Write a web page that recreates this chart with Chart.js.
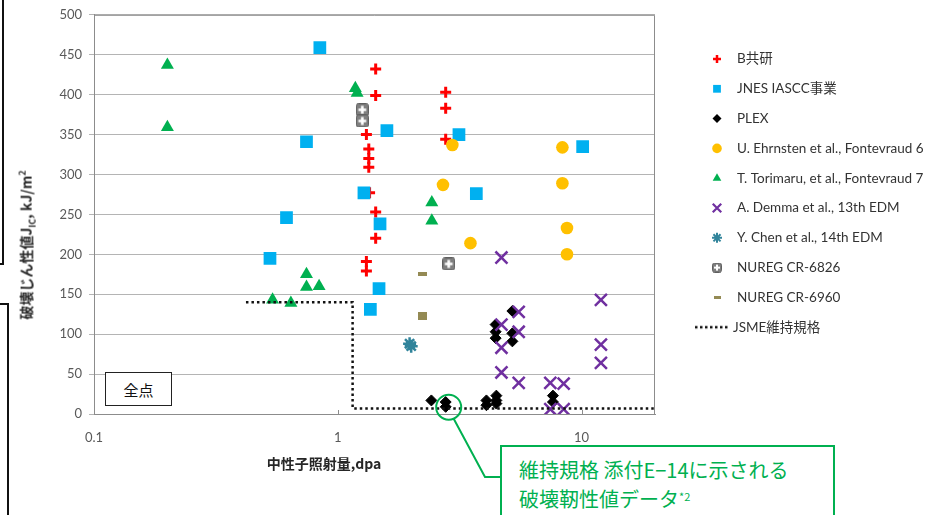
<!DOCTYPE html>
<html>
<head>
<meta charset="utf-8">
<script src="https://cdn.jsdelivr.net/npm/chart.js@4.4.1/dist/chart.umd.min.js"></script>
<style>
  body { margin: 0; background: #fff; }
  #wrap { position: relative; width: 939px; height: 515px; overflow: hidden; background: #fff; }
  #plot { position: absolute; left: 0; top: 0; }
  .ytitle { position: absolute; left: 27px; top: 245px; transform: translate(-50%, -50%) rotate(-90deg);
            font: bold 14px 'Noto Sans CJK JP', 'Lato', sans-serif; color: #262626; white-space: nowrap; }
  .ytitle sub, .ytitle sup { font-size: 9px; }
  .xtitle { position: absolute; left: 324px; top: 463px; transform: translate(-50%, -50%);
            font: bold 14px 'Noto Sans CJK JP', 'Lato', sans-serif; color: #262626; white-space: nowrap; }
  .allpts { position: absolute; left: 105px; top: 372px; width: 65px; height: 32px; border: 1.5px solid #222;
            font: 15px 'Noto Sans CJK JP', sans-serif; color: #111; display: flex; align-items: center; justify-content: center; background: #fff; }
  .callout { position: absolute; left: 500px; top: 445px; width: 335px; height: 100px; border: 2px solid #00B050;
             font: 20px 'Noto Sans CJK JP', sans-serif; color: #00B050; line-height: 27px; padding: 9px 0 0 17px; box-sizing: border-box; background: #fff; }
  .callout sup { font-size: 11px; vertical-align: 6px; }
  .edge1 { position: absolute; left: -10px; top: -10px; width: 10px; height: 271px; border: 2px solid #111; }
  .edge2 { position: absolute; left: -10px; top: 303px; width: 15px; height: 300px; border: 2px solid #111; }
</style>
</head>
<body>
<div id="wrap">
  <canvas id="plot" width="939" height="515"></canvas>
  <div class="edge1"></div>
  <div class="edge2"></div>
  <div class="ytitle">破壊じん性値J<sub>IC</sub>, kJ/m<sup>2</sup></div>
  <div class="xtitle">中性子照射量,dpa</div>
  <div class="allpts">全点</div>
  <div class="callout">維持規格 添付E−14に示される<br>破壊靭性値データ<sup>*2</sup></div>
</div>
<script>
// Fracture toughness J_IC (kJ/m2) against neutron dose (dpa), one list per source
const B_KYOKEN = [[1.43,432],[1.43,399],[2.77,403],[2.77,383],[2.77,344],[1.31,350],[1.34,332],
                  [1.34,320],[1.34,309],[1.35,277],[1.43,253],[1.43,220],[1.31,191],[1.31,179]];
const JNES_IASCC = [[0.844,459],[0.744,341],[1.28,277],[0.616,246],[1.59,355],[3.14,350],[10.1,335],
                    [3.70,276],[1.49,238],[0.527,195],[1.476,157],[1.36,131]];
const PLEX = [[2.42,17],[2.77,15],[2.77,9],[4.07,17],[4.07,11],[4.47,23],[4.47,17],[4.47,13],
              [7.63,23],[7.63,15],[5.2,129],[4.44,112],[4.44,103],[4.44,95],[5.2,101],[5.2,91]];
const EHRNSTEN_F6 = [[2.95,337],[8.34,334],[2.70,287],[8.34,289],[8.71,233],[3.50,214],[8.71,200]];
const TORIMARU_F7 = [[0.2,437],[0.2,359],[1.18,408],[1.2,402],[2.43,265],[2.43,242],[0.744,175],
                     [0.744,159],[0.838,160],[0.54,143],[0.642,139]];
const DEMMA_13 = [[4.69,196],[5.52,128],[12.0,143],[4.69,112],[5.52,103],[4.69,83],[12.0,87],
                  [12.0,64],[4.69,52],[5.52,39],[7.44,39],[8.44,38],[7.44,6],[8.44,6]];
const CHEN_14 = [[1.97,88],[2.0,85]];
const NUREG_6826 = [[1.26,381],[1.26,367],[2.85,188]];
const NUREG_6960 = [[2.22,175],[2.22,125.5],[2.22,120.5]];
const JSME_LIMIT = [[0.42,140],[1.15,140],[1.15,7],[20,7]];

const SERIES_NAMES = ['B共研', 'JNES IASCC事業', 'PLEX', 'U. Ehrnsten et al., Fontevraud 6',
  'T. Torimaru, et al., Fontevraud 7', 'A. Demma et al., 13th EDM', 'Y. Chen et al., 14th EDM',
  'NUREG CR-6826', 'NUREG CR-6960', 'JSME維持規格'];
const X_TICKS = [0.1, 1, 10];
const Y_MIN = 0, Y_MAX = 500, Y_STEP = 50;
const X_MIN = 0.1, X_MAX = 20;

const toXY = pts => pts.map(([x, y]) => ({ x, y }));

// Grey rounded square with a white cross
function nuregIcon(size) {
  const c = document.createElement('canvas');
  c.width = size; c.height = size;
  const g = c.getContext('2d');
  g.fillStyle = '#7f7f7f';
  g.strokeStyle = '#5f5f5f';
  g.lineWidth = 1;
  g.beginPath();
  g.roundRect(0.5, 0.5, size - 1, size - 1, 2);
  g.fill(); g.stroke();
  g.strokeStyle = '#fff';
  g.lineWidth = Math.max(2, size * 0.2);
  const m = size / 2, a = size * 0.3;
  g.beginPath();
  g.moveTo(m - a, m); g.lineTo(m + a, m);
  g.moveTo(m, m - a); g.lineTo(m, m + a);
  g.stroke();
  return c;
}
// Small olive bar
function barIcon(w, h) {
  const c = document.createElement('canvas');
  c.width = w; c.height = h;
  const g = c.getContext('2d');
  g.fillStyle = '#948a54';
  g.fillRect(0, 0, w, h);
  return c;
}
// Dotted legend line
function dottedIcon(w, h) {
  const c = document.createElement('canvas');
  c.width = w; c.height = h;
  const g = c.getContext('2d');
  g.strokeStyle = '#111';
  g.lineWidth = 2.5;
  g.setLineDash([2.5, 2.5]);
  g.beginPath(); g.moveTo(0, h / 2); g.lineTo(w - 9, h / 2); g.stroke();
  return c;
}

const datasets = [
  { label: SERIES_NAMES[0], data: toXY(B_KYOKEN), pointStyle: 'cross', pointRadius: 5.5, borderWidth: 3,
    borderColor: '#ff0000', backgroundColor: '#ff0000',
    legend: { style: 'cross', radius: 4, width: 2.5 } },
  { label: SERIES_NAMES[1], data: toXY(JNES_IASCC), pointStyle: 'rect', pointRadius: 9, borderWidth: 0,
    borderColor: '#00b0f0', backgroundColor: '#00b0f0',
    legend: { style: 'rect', radius: 5.5, width: 0 } },
  { label: SERIES_NAMES[2], data: toXY(PLEX), pointStyle: 'rectRot', pointRadius: 5.5, borderWidth: 1,
    borderColor: '#000', backgroundColor: '#000',
    legend: { style: 'rectRot', radius: 4.5, width: 0 } },
  { label: SERIES_NAMES[3], data: toXY(EHRNSTEN_F6), pointStyle: 'circle', pointRadius: 6.3, borderWidth: 0,
    borderColor: '#ffc000', backgroundColor: '#ffc000',
    legend: { style: 'circle', radius: 4.8, width: 0 } },
  { label: SERIES_NAMES[4], data: toXY(TORIMARU_F7), pointStyle: 'triangle', pointRadius: 7.5, borderWidth: 0,
    borderColor: '#00b050', backgroundColor: '#00b050',
    legend: { style: 'triangle', radius: 5, width: 0 } },
  { label: SERIES_NAMES[5], data: toXY(DEMMA_13), pointStyle: 'crossRot', pointRadius: 8.5, borderWidth: 2.5,
    borderColor: '#7030a0', backgroundColor: '#7030a0',
    legend: { style: 'crossRot', radius: 6, width: 2.2 } },
  { label: SERIES_NAMES[6], data: toXY(CHEN_14), pointStyle: 'star', pointRadius: 6.5, borderWidth: 2.5,
    borderColor: '#31849b', backgroundColor: '#31849b',
    legend: { style: 'star', radius: 5, width: 2 } },
  { label: SERIES_NAMES[7], data: toXY(NUREG_6826), pointStyle: nuregIcon(13), pointRadius: 7,
    borderColor: '#7f7f7f', backgroundColor: '#7f7f7f',
    legend: { style: nuregIcon(10) } },
  { label: SERIES_NAMES[8], data: toXY(NUREG_6960), pointStyle: barIcon(9, 4), pointRadius: 5,
    borderColor: '#948a54', backgroundColor: '#948a54',
    legend: { style: barIcon(7, 3) } },
  { label: SERIES_NAMES[9], data: toXY(JSME_LIMIT), type: 'line', showLine: true, pointRadius: 0,
    borderColor: '#111', borderWidth: 2.5, borderDash: [2.5, 3], fill: false, tension: 0,
    legend: { style: dottedIcon(44, 6) } }
];
// later series paint over earlier ones
datasets.forEach((d, i) => { d.order = datasets.length - i; });

// plot frame (top/right edges) and inward ticks on the dose axis
const frame = {
  id: 'frame',
  beforeDatasetsDraw(chart) {
    const { ctx, chartArea: a, scales } = chart;
    ctx.save();
    ctx.strokeStyle = '#8c8c8c';
    ctx.lineWidth = 1;
    ctx.beginPath();
    ctx.moveTo(a.left, a.top + 0.5); ctx.lineTo(a.right - 0.5, a.top + 0.5); ctx.lineTo(a.right - 0.5, a.bottom);
    ctx.stroke();
    ctx.beginPath();
    X_TICKS.forEach(v => {
      const px = Math.round(scales.x.getPixelForValue(v)) + 0.5;
      ctx.moveTo(px, a.bottom); ctx.lineTo(px, a.bottom - 4);
    });
    ctx.stroke();
    ctx.restore();
  }
};

// legend column at the right
const LEGEND = { markerX: 717, textX: 737, top: 59, step: 29.8 };
const sideLegend = {
  id: 'sideLegend',
  afterDraw(chart) {
    const ctx = chart.ctx;
    ctx.save();
    chart.data.datasets.forEach((d, i) => {
      const y = LEGEND.top + i * LEGEND.step;
      const lg = d.legend;
      ctx.fillStyle = d.backgroundColor;
      ctx.strokeStyle = d.borderColor;
      ctx.lineWidth = lg.width || 0;
      ctx.setLineDash([]);
      Chart.helpers.drawPoint(ctx, { pointStyle: lg.style, radius: lg.radius || 5, borderWidth: lg.width || 0, rotation: 0 },
        LEGEND.markerX, y);
      ctx.fillStyle = '#333';
      ctx.font = "13.5px 'Lato', 'Noto Sans CJK JP', sans-serif";
      ctx.textBaseline = 'middle';
      ctx.textAlign = 'left';
      ctx.fillText(d.label, i === datasets.length - 1 ? LEGEND.textX - 4 : LEGEND.textX, y);
    });
    ctx.restore();
  }
};

// green ring around the lowest PLEX values, with a leader towards the note box
const HIGHLIGHT = { x: 2.85, y: 8.5, r: 12.5 };
const highlight = {
  id: 'highlight',
  afterDraw(chart) {
    const { ctx, scales } = chart;
    const cx = scales.x.getPixelForValue(HIGHLIGHT.x);
    const cy = scales.y.getPixelForValue(HIGHLIGHT.y);
    ctx.save();
    ctx.strokeStyle = '#00b050';
    ctx.lineWidth = 2;
    ctx.beginPath();
    ctx.arc(cx, cy, HIGHLIGHT.r, 0, Math.PI * 2);
    ctx.stroke();
    ctx.beginPath();
    ctx.moveTo(cx + 5, cy + HIGHLIGHT.r - 1);
    ctx.lineTo(485, 477);
    ctx.lineTo(501, 477);
    ctx.stroke();
    ctx.restore();
  }
};

const tickFont = { family: "'Lato', sans-serif", size: 13 };

new Chart(document.getElementById('plot'), {
  type: 'scatter',
  data: { datasets },
  options: {
    responsive: false,
    animation: false,
    events: [],
    layout: { padding: { top: 12, right: 284, left: 0, bottom: 0 } },
    plugins: { legend: { display: false }, tooltip: { enabled: false } },
    scales: {
      x: {
        type: 'logarithmic', min: X_MIN, max: X_MAX,
        afterFit(s) { s.height = 101; },
        afterBuildTicks(s) { s.ticks = X_TICKS.map(v => ({ value: v })); },
        ticks: { callback: v => String(v), color: '#595959', font: tickFont, padding: 8, autoSkip: false, maxRotation: 0 },
        grid: { display: false },
        border: { color: '#8c8c8c', width: 1 }
      },
      y: {
        min: Y_MIN, max: Y_MAX,
        afterFit(s) { s.width = 94; },
        ticks: { stepSize: Y_STEP, color: '#595959', font: tickFont, padding: 7 },
        grid: { color: '#b4b4b4', tickLength: 5, lineWidth: 1 },
        border: { color: '#8c8c8c', width: 1 }
      }
    }
  },
  plugins: [frame, sideLegend, highlight]
});
</script>
</body>
</html>
